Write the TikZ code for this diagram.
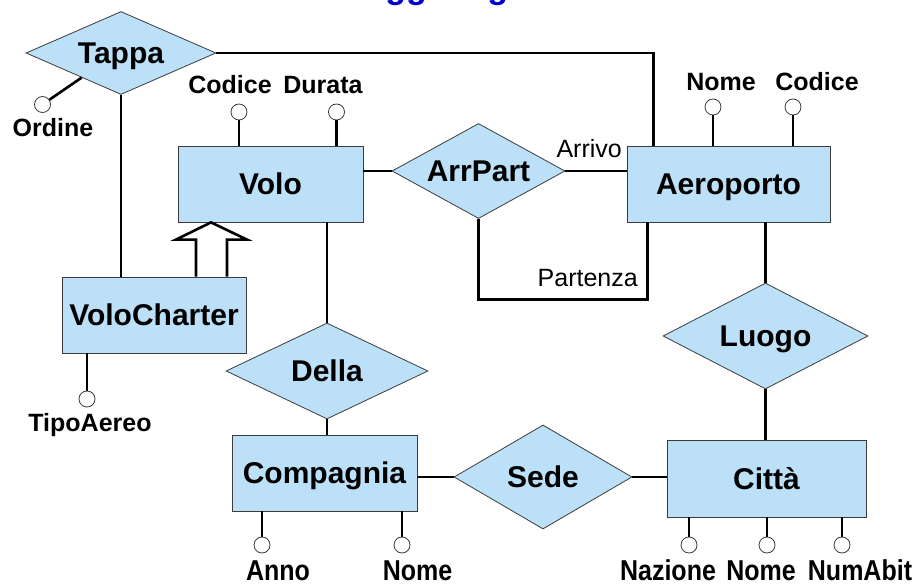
\documentclass[tikz,border=0pt]{standalone}
\usepackage{fontspec}
\setmainfont{Liberation Sans}
\usepackage{tikz}
\usetikzlibrary{calc,shapes.geometric}
\usepackage{xcolor}
\definecolor{erblue}{RGB}{187,224,247}
\definecolor{erline}{RGB}{60,60,60}
\definecolor{titleblue}{RGB}{0,0,204}
\newcommand{\entfont}{\fontsize{30}{36}\selectfont\bfseries}
\newcommand{\attrfont}{\fontsize{25}{30}\selectfont\bfseries}
\newcommand{\rolefont}{\fontsize{25}{30}\selectfont}
\newcommand{\tall}[1]{\scalebox{1}[1.15]{#1}}

\begin{document}
\begin{tikzpicture}[x=1pt,y=-1pt,
  entity/.style={draw=erline,line width=0.8pt,fill=erblue,inner sep=0pt,
    text height=21.5pt,text depth=0pt,font=\entfont},
  relation/.style={entity,shape=diamond},
  attr/.style={circle,draw=erline,fill=white,line width=0.8pt,
    minimum size=16pt,inner sep=0pt},
  lbl/.style={anchor=base,inner sep=0pt,font=\attrfont},
  link/.style={line width=2.6pt}]
  \useasboundingbox (0,0) rectangle (922,585);
  \clip (0,0) rectangle (922,585);
  \node[anchor=base west,inner sep=0pt,text=titleblue,
    font=\fontsize{34}{40}\selectfont\bfseries] (title) at (253,-1)
    {Come leggere gli schemi};
  % entities
  \node[entity,minimum width=185pt,minimum height=76pt] (volo) at (270.5,184) {Volo};
  \node[entity,minimum width=203pt,minimum height=76pt] (aeroporto) at (728.5,184) {Aeroporto};
  \node[entity,minimum width=184pt,minimum height=76pt] (volocharter) at (154,315) {VoloCharter};
  \node[entity,minimum width=185pt,minimum height=76pt] (compagnia) at (324.5,473) {Compagnia};
  \node[entity,minimum width=199pt,minimum height=77pt] (citta) at (766.5,478.5) {Città};
  % relationships
  \node[relation,aspect=2.3,minimum width=190pt,minimum height=83pt] (tappa) at (121,53) {Tappa};
  \node[relation,aspect=1.8,minimum width=173pt,minimum height=95pt] (arrpart) at (478.5,171) {ArrPart};
  \node[relation,aspect=1.9,minimum width=205pt,minimum height=106pt] (luogo) at (765.5,336) {Luogo};
  \node[relation,aspect=2.1,minimum width=202pt,minimum height=96pt] (della) at (327,371) {Della};
  \node[relation,aspect=1.7,minimum width=178pt,minimum height=104pt] (sede) at (543,477) {Sede};
  % attributes
  \node[attr] (codv) at (239,112) {};
  \node[attr] (durv) at (336.5,112) {};
  \node[attr] (nomea) at (713,107) {};
  \node[attr] (codicea) at (793,107) {};
  \node[attr] (ordine) at (42.5,104.5) {};
  \node[attr] (tipo) at (87,399) {};
  \node[attr] (anno) at (262,545) {};
  \node[attr] (nomec) at (402,545) {};
  \node[attr] (nazione) at (689,545) {};
  \node[attr] (nomecit) at (767,545) {};
  \node[attr] (numabit) at (842,545) {};
  \node[lbl] (codv-l) at (230,94) {Codice};
  \node[lbl] (durv-l) at (323,94) {Durata};
  \node[lbl] (nomea-l) at (721,91) {Nome};
  \node[lbl] (codicea-l) at (817,91) {Codice};
  \node[lbl] (ordine-l) at (53,137) {Ordine};
  \node[lbl] (tipo-l) at (90,432) {TipoAereo};
  \node[lbl] (anno-l) at (278,580) {\tall{Anno}};
  \node[lbl] (nomec-l) at (417.5,580) {\tall{Nome}};
  \node[lbl] (nazione-l) at (668,580) {\tall{Nazione}};
  \node[lbl] (nomecit-l) at (761,580) {\tall{Nome}};
  \node[lbl] (numabit-l) at (860,580) {\tall{NumAbit}};
  % roles
  \node[anchor=base east,inner sep=0pt,font=\rolefont] (arrivo) at (622,158) {Arrivo};
  \node[anchor=base east,inner sep=0pt,font=\rolefont] (partenza) at (638,287) {Partenza};
  % links
  \draw[link] (tappa.east) -| ($(aeroporto.north west)+(27,0)$);
  \draw[link] (tappa.south) -- (tappa.south |- volocharter.north);
  \draw[link] (ordine) -- (tappa.212);
  \draw[link] (arrpart.west) -- (arrpart.west -| volo.east);
  \draw[link] (arrpart.east) -- (arrpart.east -| aeroporto.west);
  \draw[link] (arrpart.south) |- ($(aeroporto.south west)+(21,77)$)
    -- ($(aeroporto.south west)+(21,0)$);
  \draw[link] (luogo.north) -- (luogo.north |- aeroporto.south);
  \draw[link] (luogo.south) -- (luogo.south |- citta.north);
  \draw[link] (della.north) -- (della.north |- volo.south);
  \draw[link] (della.south) -- (della.south |- compagnia.north);
  \draw[link] (sede.west) -- (sede.west -| compagnia.east);
  \draw[link] (sede.east) -- (sede.east -| citta.west);
  % generalization
  \draw[link] ($(volocharter.north)+(42,0)$) -- ++(0,-37) -- ++(-20,0)
    -- ($(volo.south)+(-59.5,0)$) -- ($(volocharter.north)+(93,-37)$)
    -- ++(-20,0) -- ++(0,37);
  % attribute stems
  \draw[link] (codv) -- (codv |- volo.north);
  \draw[link] (durv) -- (durv |- volo.north);
  \draw[link] (nomea) -- (nomea |- aeroporto.north);
  \draw[link] (codicea) -- (codicea |- aeroporto.north);
  \draw[link] (tipo) -- (tipo |- volocharter.south);
  \draw[link] (anno) -- (anno |- compagnia.south);
  \draw[link] (nomec) -- (nomec |- compagnia.south);
  \draw[link] (nazione) -- (nazione |- citta.south);
  \draw[link] (nomecit) -- (nomecit |- citta.south);
  \draw[link] (numabit) -- (numabit |- citta.south);
\end{tikzpicture}
\end{document}
